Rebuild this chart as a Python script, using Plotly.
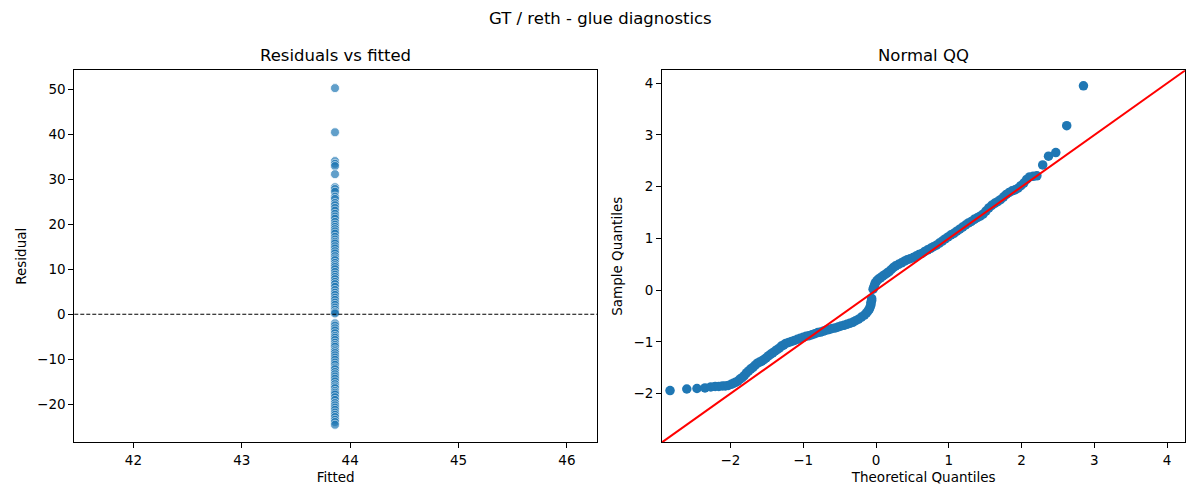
import plotly.graph_objects as go

# residuals vs fitted (intercept-only glue model, so every point sits on one fitted value)
fitted_value = 43.86
residuals = [
    50.2, 40.4, 34.0, 33.4, 32.9, 31.1, 28.2, 27.8, 27.2, 26.1, 25.6, 24.7,
    24.2, 23.6, 23.0, 22.3, 21.7, 21.2, 20.5, 19.9, 19.4, 18.9, 18.4, 17.9,
    17.2, 16.6, 16.1, 15.7, 15.1, 14.6, 14.0, 13.5, 12.9, 12.4, 12.0, 11.4,
    10.9, 10.5, 10.0, 9.4, 8.8, 8.3, 7.8, 7.2, 6.7, 6.1, 5.4, 4.8,
    4.3, 3.7, 3.2, 2.6, 2.1, 1.5, 1.0, 0.5, 0.2,
    -2.0, -2.5, -3.1, -3.6, -4.2, -4.8, -5.2, -5.7, -6.3, -6.8, -7.2, -7.8,
    -8.2, -8.6, -9.1, -9.6, -10.1, -10.7, -11.2, -11.8, -12.2, -12.8, -13.3, -13.8,
    -14.3, -14.9, -15.5, -16.0, -16.4, -17.0, -17.4, -17.8, -18.4, -19.0, -19.7, -20.2,
    -20.7, -21.2, -21.8, -22.3, -22.8, -23.4, -23.9, -24.5,
]

# Normal QQ: theoretical vs sample quantiles
qq_theoretical = [
    -2.83, -2.60, -2.46, -2.35, -2.27, -2.21, -2.16, -2.11, -2.07, -2.03,
    -1.99, -1.96, -1.93, -1.90, -1.87, -1.84, -1.81, -1.78, -1.75, -1.72,
    -1.69, -1.66, -1.63, -1.60, -1.57, -1.54, -1.51, -1.48, -1.45, -1.42,
    -1.39, -1.36, -1.33, -1.30, -1.27, -1.24, -1.20, -1.16, -1.12, -1.08,
    -1.04, -1.00, -0.96, -0.92, -0.88, -0.84, -0.80, -0.76, -0.72, -0.68,
    -0.64, -0.60, -0.56, -0.52, -0.48, -0.44, -0.40, -0.36, -0.32, -0.28,
    -0.24, -0.20, -0.16, -0.13, -0.11, -0.09, -0.08, -0.07, -0.07, -0.06,
    -0.06,
    -0.04, -0.03, -0.02, -0.01, 0.01, 0.03, 0.06, 0.09, 0.12, 0.15,
    0.18, 0.21, 0.24, 0.27, 0.31, 0.35, 0.39, 0.43, 0.47, 0.51,
    0.55, 0.59, 0.63, 0.67, 0.71, 0.75, 0.79, 0.83, 0.87, 0.91,
    0.95, 0.99, 1.03, 1.07, 1.11, 1.15, 1.19, 1.23, 1.27, 1.31,
    1.35, 1.39, 1.43, 1.47, 1.51, 1.55, 1.59, 1.63, 1.67, 1.71,
    1.75, 1.79, 1.83, 1.87, 1.91, 1.95, 1.99, 2.03, 2.07, 2.11,
    2.16, 2.21, 2.29, 2.37, 2.47, 2.62, 2.85,
]
qq_sample = [
    -1.94, -1.91, -1.90, -1.89, -1.87, -1.86, -1.86, -1.85, -1.85, -1.84,
    -1.82, -1.80, -1.78, -1.76, -1.72, -1.69, -1.65, -1.60, -1.56, -1.52,
    -1.49, -1.45, -1.41, -1.39, -1.37, -1.34, -1.31, -1.27, -1.24, -1.21,
    -1.18, -1.15, -1.12, -1.08, -1.06, -1.03, -1.01, -0.99, -0.97, -0.95,
    -0.93, -0.91, -0.89, -0.88, -0.86, -0.84, -0.82, -0.81, -0.79, -0.77,
    -0.76, -0.74, -0.73, -0.71, -0.69, -0.68, -0.66, -0.64, -0.62, -0.59,
    -0.56, -0.52, -0.48, -0.44, -0.40, -0.36, -0.32, -0.28, -0.24, -0.20,
    -0.16,
    0.02, 0.06, 0.10, 0.14, 0.18, 0.21, 0.24, 0.27, 0.30, 0.33,
    0.36, 0.40, 0.44, 0.47, 0.50, 0.53, 0.56, 0.59, 0.61, 0.63,
    0.66, 0.69, 0.71, 0.75, 0.78, 0.81, 0.84, 0.87, 0.91, 0.95,
    0.99, 1.03, 1.07, 1.10, 1.14, 1.18, 1.22, 1.26, 1.30, 1.33,
    1.37, 1.40, 1.43, 1.47, 1.53, 1.59, 1.64, 1.68, 1.71, 1.75,
    1.80, 1.85, 1.89, 1.92, 1.94, 1.97, 2.02, 2.07, 2.14, 2.19,
    2.20, 2.21, 2.42, 2.59, 2.66, 3.18, 3.95,
]

font = "DejaVu Sans"
blue = "#1f77b4"
qq_range = [-2.94, 4.25]

fig = go.Figure()

fig.add_trace(go.Scatter(
    x=[fitted_value] * len(residuals), y=residuals, mode="markers",
    marker=dict(color=blue, size=9, opacity=0.7, line=dict(color="white", width=0.8)),
    xaxis="x", yaxis="y", showlegend=False,
))

fig.add_trace(go.Scatter(
    x=qq_theoretical, y=qq_sample, mode="markers",
    marker=dict(color=blue, size=9.5, line=dict(color=blue, width=0)),
    xaxis="x2", yaxis="y2", showlegend=False,
))

# zero line on the residual panel, 45 degree line on the QQ panel
fig.add_shape(type="line", xref="x domain", yref="y", x0=0, x1=1, y0=0, y1=0,
              line=dict(color="black", width=1.1, dash="4px,2px"))
fig.add_shape(type="line", xref="x2", yref="y2",
              x0=qq_range[0], y0=qq_range[0], x1=qq_range[1], y1=qq_range[1],
              line=dict(color="red", width=2))

axis_style = dict(
    showline=True, linecolor="black", linewidth=1, mirror=True,
    ticks="outside", ticklen=5, tickwidth=1, tickcolor="black",
    showgrid=False, zeroline=False,
    tickfont=dict(family=font, size=13.5, color="black"),
)

fig.update_layout(
    width=1200, height=500,
    paper_bgcolor="white", plot_bgcolor="white",
    margin=dict(l=0, r=0, t=0, b=0),
    font=dict(family=font, color="black"),
    xaxis=dict(axis_style, domain=[0.0619, 0.4976], range=[41.454, 46.279], dtick=1,
               anchor="y", title=dict(text="Fitted", font=dict(size=13.5), standoff=6)),
    yaxis=dict(axis_style, domain=[0.1154, 0.8594], range=[-28.4, 54.15], dtick=10,
               anchor="x", title=dict(text="Residual", font=dict(size=13.5), standoff=7)),
    xaxis2=dict(axis_style, domain=[0.5517, 0.9878], range=qq_range, dtick=1,
                anchor="y2",
                title=dict(text="Theoretical Quantiles", font=dict(size=13.5), standoff=6)),
    yaxis2=dict(axis_style, domain=[0.1154, 0.8594], range=qq_range, dtick=1,
                anchor="x2",
                title=dict(text="Sample Quantiles", font=dict(size=13.5), standoff=7)),
    annotations=[
        dict(text="GT / reth - glue diagnostics", x=0.5, y=0.964, xref="paper", yref="paper",
             showarrow=False, font=dict(size=16.5), xanchor="center", yanchor="middle"),
        dict(text="Residuals vs fitted", x=0.2797, y=0.888, xref="paper", yref="paper",
             showarrow=False, font=dict(size=16.5), xanchor="center", yanchor="middle"),
        dict(text="Normal QQ", x=0.7698, y=0.888, xref="paper", yref="paper",
             showarrow=False, font=dict(size=16.5), xanchor="center", yanchor="middle"),
    ],
)

# the browser's default body margin would push the figure 8px down and right
fig.write_html("out.html", config={"displayModeBar": False},
               post_script="document.body.style.margin = '0';")
